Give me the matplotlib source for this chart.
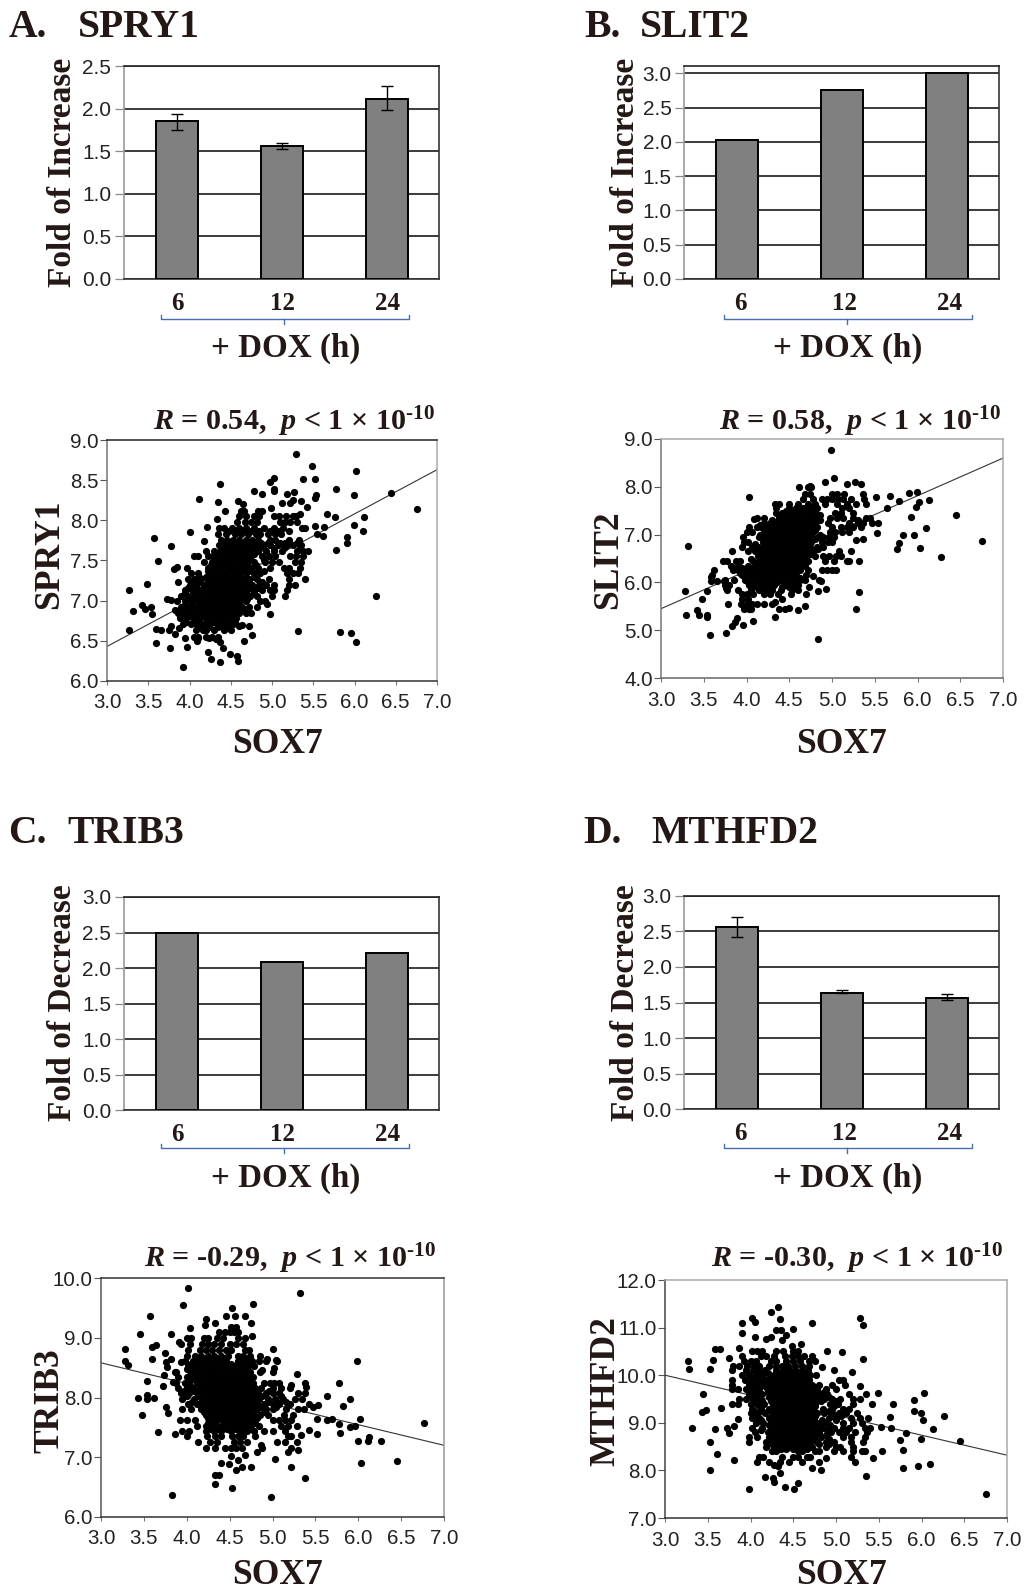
import matplotlib
matplotlib.use("Agg")
import matplotlib.pyplot as plt

W, H = 1024, 1591
INK = "#231815"
plt.rcParams["font.family"] = ["Liberation Sans", "DejaVu Sans"]
plt.rcParams["mathtext.fontset"] = "custom"
plt.rcParams["mathtext.rm"] = "Liberation Serif:bold"
plt.rcParams["mathtext.it"] = "Liberation Serif:italic:bold"
plt.rcParams["mathtext.bf"] = "Liberation Serif:bold"

# ---------- bar data ----------
hours = ["6", "12", "24"]
spry1_fold = [1.85, 1.56, 2.11]
spry1_err_low = [0.10, 0.04, 0.13]
spry1_err_high = [0.09, 0.04, 0.16]
slit2_fold = [2.03, 2.75, 3.00]
trib3_fold = [2.50, 2.08, 2.21]
mthfd2_fold = [2.56, 1.64, 1.56]
mthfd2_err_low = [0.14, 0.01, 0.025]
mthfd2_err_high = [0.14, 0.035, 0.06]

# ---------- scatter data: isolated points ----------
spry1_extra = [(3.27,7.13),(3.32,6.87),(3.27,6.63),(3.42,6.94),(3.46,6.90),(3.53,6.92),(3.54,6.83),(3.48,7.21),
(3.57,7.78),(3.62,7.49),(3.59,6.65),(3.65,6.64),(3.59,6.47),(3.76,6.41),(3.78,7.68),(3.81,7.39),(3.85,7.42),
(3.86,7.23),(3.73,7.02),(3.77,7.01),(3.82,6.88),(3.75,6.63),(3.78,6.68),(3.82,6.58),(3.87,6.66),(3.95,6.54),
(3.97,6.42),(3.92,6.18),(4.0,7.85),(4.12,8.26),(4.17,7.74),(4.21,7.92),(4.35,8.23),(4.37,8.45),(4.43,8.12),
(4.33,8.02),(4.59,8.24),(4.65,8.2),(4.78,8.37),(4.88,8.33),(4.97,8.48),(5.02,8.53),(5.02,8.39),(5.02,8.36),
(5.29,8.82),(5.49,8.68),(5.38,8.51),(5.52,8.51),(5.27,8.35),(5.18,8.33),(5.53,8.31),(5.52,8.28),(5.35,8.24),
(5.25,8.25),(5.22,8.21),(5.12,8.21),(5.42,8.16),(4.99,8.15),(5.34,8.08),(5.67,8.08),(5.76,8.04),(5.78,8.39),
(5.99,8.32),(6.02,8.61),(6.44,8.34),(6.76,8.14),(6.12,8.04),(5.99,7.94),(6.1,7.87),(5.63,7.92),(5.52,7.93),
(5.55,7.83),(5.62,7.81),(5.91,7.79),(5.91,7.72),(5.78,7.63),(6.26,7.06),(5.32,6.62),(5.83,6.61),(5.96,6.6),
(6.02,6.48),(4.98,6.83),(4.94,6.96),(4.76,6.57),(4.72,6.68),(4.66,6.5),(4.6,6.68),(4.64,6.7),(4.59,6.25),
(4.57,6.31),(4.49,6.34),(4.37,6.24),(4.26,6.28),(4.22,6.36),(4.4,6.41),(4.37,6.48),(4.09,6.5),(4.1,6.54),
(4.24,6.53),(4.32,6.52)]
slit2_extra = [(3.28,5.82),(3.29,5.32),(3.32,6.77),(3.42,5.43),(3.45,5.32),(3.48,5.66),(3.54,5.82),(3.54,5.32),
(3.54,5.27),(3.57,4.91),(3.62,6.26),(3.58,6.12),(3.59,6.02),(3.65,6.02),(3.76,4.95),(3.78,5.55),(3.74,6.02),
(3.76,5.88),(3.83,5.08),(3.86,5.18),(3.89,5.25),(3.73,6.45),(3.83,6.65),(3.96,5.1),(4.08,5.19),(4.03,7.78),
(4.09,7.32),(4.33,5.27),(4.84,4.82),(4.99,8.77),(5.02,8.18),(4.92,8.11),(4.61,8.0),(4.74,8.02),(5.18,8.06),
(5.27,8.1),(5.34,8.05),(5.28,5.44),(5.31,5.8),(5.32,6.44),(5.22,6.66),(5.28,6.88),(5.36,6.9),(5.53,7.03),
(5.52,7.78),(5.68,7.81),(5.78,7.7),(5.64,7.55),(5.9,7.86),(5.99,7.89),(6.02,7.68),(5.98,7.58),(6.13,7.72),
(5.92,7.36),(6.45,7.4),(6.76,6.87),(6.1,7.13),(5.96,6.99),(5.83,7.0),(6.03,6.72),(5.78,6.82),(5.76,6.69),
(6.27,6.54),(4.93,5.87),(4.84,5.82),(4.87,6.03),(4.7,5.76),(4.73,5.9),(4.78,6.14),(4.68,5.5),(4.6,5.43),
(4.5,5.47),(4.45,5.45),(4.33,5.58)]
trib3_extra = [(3.28,8.81),(3.28,8.61),(3.32,8.54),(3.43,7.99),(3.46,9.06),(3.48,7.7),(3.54,8.27),(3.54,8.04),
(3.54,7.98),(3.62,8.0),(3.57,9.37),(3.59,8.64),(3.59,8.84),(3.64,8.88),(3.66,7.42),(3.72,8.2),(3.74,8.38),
(3.75,8.75),(3.76,8.6),(3.77,8.51),(3.82,9.06),(3.82,8.65),(3.76,7.84),(3.78,7.74),(3.83,6.37),(3.86,7.39),
(3.96,9.55),(4.01,9.84),(3.93,8.59),(3.91,8.93),(3.86,8.43),(3.84,8.26),(4.04,9.17),(4.22,9.32),(4.21,9.21),
(4.33,9.24),(4.38,9.1),(4.46,9.37),(4.53,9.49),(4.56,9.36),(4.68,9.36),(4.77,9.56),(4.75,9.24),(4.52,9.18),
(4.58,9.18),(4.76,9.03),(5.32,9.75),(5.0,8.81),(4.94,8.65),(5.04,8.63),(5.02,8.49),(4.88,8.46),(5.29,8.4),
(5.38,8.25),(5.39,8.18),(5.21,8.21),(5.64,8.02),(5.78,8.25),(5.82,7.86),(5.9,7.97),(5.99,8.61),(5.53,7.87),
(5.47,7.84),(5.52,7.64),(5.63,7.62),(5.69,7.64),(5.77,7.56),(5.79,7.41),(5.9,7.51),(5.96,7.53),(6.02,7.64),
(6.0,7.28),(6.11,7.28),(6.13,7.34),(6.26,7.28),(6.03,6.91),(6.45,6.93),(6.77,7.57),(5.52,7.39),(5.43,7.45),
(5.33,7.37),(5.3,7.12),(5.22,6.83),(5.38,6.66),(4.98,6.34),(5.03,6.97),(4.82,7.09),(4.75,6.83),(4.68,7.04),
(4.64,6.83),(4.58,6.79),(4.6,6.95),(4.49,6.89),(4.52,7.02),(4.4,6.9),(4.33,6.71),(4.38,6.71),(4.33,6.55),
(4.53,6.49),(5.05,7.26),(5.18,7.09),(4.87,7.2)]
mthfd2_extra = [(3.27,10.29),(3.28,10.13),(3.32,8.89),(3.43,9.23),(3.48,9.26),(3.45,9.6),(3.56,10.32),(3.53,10.14),
(3.58,10.54),(3.64,10.54),(3.65,9.32),(3.58,8.86),(3.53,8.59),(3.61,8.35),(3.53,8.0),(3.72,8.9),(3.75,8.79),
(3.81,8.93),(3.85,9.08),(3.81,8.21),(3.75,10.37),(3.9,11.1),(3.9,10.88),(4.02,11.21),(4.05,11.12),(4.05,10.81),
(3.87,10.58),(3.98,7.61),(4.24,11.32),(4.32,11.43),(4.35,11.19),(4.3,10.95),(4.36,10.95),(4.5,10.97),(4.72,11.09),
(5.28,11.21),(5.32,11.05),(5.32,10.34),(5.07,10.48),(4.9,10.51),(4.59,10.65),(4.48,10.62),(4.18,10.77),(4.24,10.8),
(4.42,10.84),(4.37,10.75),(5.19,10.07),(4.98,10.1),(4.84,10.18),(5.28,9.77),(5.49,9.63),(5.35,9.61),(5.67,9.39),
(5.91,9.48),(6.03,9.62),(5.91,9.25),(5.99,9.21),(6.26,9.14),(6.02,9.05),(6.13,8.86),(5.82,8.79),(5.63,9.12),
(5.64,8.89),(5.53,8.92),(5.75,8.63),(5.99,8.65),(6.45,8.61),(5.78,8.42),(5.78,8.06),(5.96,8.1),(6.1,8.14),
(5.54,8.4),(5.43,8.26),(5.35,7.89),(6.76,7.5),(5.22,8.17),(4.82,8.0),(4.72,8.06),(4.56,7.73),(4.51,7.61),
(4.4,7.66),(4.27,7.75),(4.26,7.84),(4.17,7.86),(4.35,7.94),(4.88,8.26),(4.32,8.1),(4.28,8.12)]

# ---------- scatter data: dense cloud read row by row ----------
spry1_row_y = [8.12,8.05,7.98,7.9,7.83,7.76,7.69,7.62,7.55,7.48,7.41,7.34,7.27,7.2,7.13,7.06,6.99,6.92,6.85,6.78,6.71,6.63,6.55,
               7.87,7.72,7.65,7.58,7.51,7.44,7.37,7.3,7.23,7.16,7.09,7.02,6.95,6.88,6.81,6.74,6.67]
spry1_row_x = [
[4.62,4.66,4.83,4.88],
[4.6,4.69,4.78,4.84,5.03,5.08,5.17,5.25,5.29],
[4.58,4.67,4.74,4.82,5.1,5.16,5.22,5.3],
[4.36,4.42,4.52,4.6,4.69,4.78,4.9,5.03,5.13,5.36,5.4],
[4.34,4.44,4.55,4.63,4.71,4.8,4.86,4.95,5.04,5.11],
[4.38,4.45,4.53,4.6,4.68,4.76,4.83,4.98,5.04,5.2,5.33],
[4.36,4.43,4.5,4.58,4.65,4.72,4.8,4.9,4.97,5.07,5.18,5.25,5.35],
[4.2,4.3,4.37,4.44,4.51,4.58,4.66,4.74,4.83,4.93,5.02,5.12,5.3,5.38,5.44],
[4.05,4.1,4.22,4.28,4.35,4.42,4.49,4.57,4.64,4.72,4.88,4.96,5.04,5.22,5.29,5.37],
[4.18,4.27,4.34,4.41,4.48,4.55,4.62,4.7,4.78,4.92,5.0,5.08,5.28,5.35],
[3.97,4.22,4.3,4.37,4.44,4.51,4.58,4.66,4.75,4.83,4.97,5.14,5.2,5.34],
[4.02,4.1,4.26,4.33,4.4,4.47,4.54,4.61,4.68,4.78,4.86,5.18,5.26,5.32],
[3.98,4.06,4.14,4.22,4.29,4.36,4.43,4.5,4.57,4.64,4.72,4.82,4.96,5.2,5.4],
[4.0,4.08,4.18,4.25,4.32,4.39,4.46,4.53,4.6,4.67,4.76,4.84,4.93,5.02,5.2,5.28],
[3.94,4.03,4.13,4.2,4.27,4.34,4.41,4.48,4.55,4.62,4.7,4.78,4.88,4.97,5.03,5.18],
[3.9,3.98,4.08,4.16,4.23,4.3,4.37,4.44,4.51,4.58,4.65,4.73,4.82,5.0,5.16],
[3.85,3.95,4.04,4.12,4.19,4.26,4.33,4.4,4.47,4.54,4.61,4.68,4.85,4.92],
[3.9,3.98,4.08,4.15,4.22,4.29,4.36,4.43,4.5,4.57,4.64,4.72,4.82],
[3.86,3.95,4.03,4.11,4.18,4.25,4.32,4.39,4.46,4.53,4.6,4.68,4.74],
[3.88,3.96,4.05,4.13,4.2,4.28,4.35,4.42,4.49,4.56],
[3.92,4.02,4.08,4.17,4.25,4.33,4.4,4.47,4.53],
[4.08,4.16,4.2,4.3,4.42,4.5],
[4.05,4.1,4.2,4.27,4.34],
[4.48,4.57,4.66,4.75,4.84,4.98,5.08,5.2],
[4.42,4.5,4.57,4.64,4.72,4.8,4.87,4.95,5.1,5.16,5.3],
[4.4,4.47,4.54,4.62,4.7,4.77,4.86,5.03,5.15,5.34],
[4.4,4.47,4.54,4.62,4.7,4.78],
[4.31,4.38,4.45,4.52,4.6,4.67,4.75,4.9],
[4.26,4.33,4.4,4.47,4.54,4.62,4.7,4.8],
[4.23,4.3,4.36,4.43,4.5,4.57,4.64,4.72,4.9],
[4.12,4.2,4.26,4.33,4.4,4.47,4.54,4.6,4.68,4.78],
[4.03,4.12,4.22,4.29,4.36,4.43,4.5,4.57,4.64,4.72,4.88],
[3.98,4.08,4.16,4.23,4.3,4.37,4.44,4.51,4.58,4.65,4.74,4.83],
[3.95,4.05,4.12,4.2,4.27,4.34,4.41,4.48,4.55,4.62,4.68,4.78],
[4.02,4.08,4.16,4.23,4.3,4.37,4.44,4.51,4.58,4.65,4.7],
[3.95,4.02,4.11,4.18,4.25,4.32,4.39,4.46,4.53,4.6],
[3.92,4.0,4.08,4.15,4.22,4.29,4.36,4.43,4.5,4.57,4.65],
[3.92,4.0,4.07,4.15,4.23,4.3,4.37,4.44,4.51],
[3.96,4.04,4.12,4.22,4.3,4.37,4.44,4.55],
[4.12,4.24,4.34,4.45]]

slit2_row_y = [8.0,7.85,7.75,7.65,7.55,7.45,7.35,7.25,7.15,7.05,6.95,6.85,6.75,6.65,6.55,6.45,6.35,6.25,6.15,6.05,5.95,5.85,5.75,5.65,5.55,5.45,
               7.5,7.4,7.3,7.2,7.1,7.0,6.9,6.8,6.7,6.6,6.5,6.4,6.3,6.2,6.1,6.0,5.9]
slit2_row_x = [
[4.72,4.76],
[4.68,4.74,5.0,5.06,5.14,5.36],
[4.66,4.78,4.88,4.94,5.0,5.07,5.13,5.22,5.38],
[4.33,4.38,4.5,4.6,4.72,4.8,4.92,5.06,5.17,5.28,5.4],
[4.35,4.5,4.58,4.66,4.74,4.82,5.12,5.2],
[4.34,4.42,4.5,4.58,4.65,4.72,4.8,5.03,5.1,5.24],
[4.12,4.2,4.38,4.46,4.53,4.6,4.68,4.75,4.82,4.98,5.06,5.13,5.25,5.4,5.45],
[4.2,4.27,4.34,4.42,4.5,4.57,4.64,4.72,4.8,4.95,5.2,5.3,5.36,5.47,5.54],
[4.03,4.12,4.17,4.24,4.31,4.38,4.45,4.52,4.59,4.66,4.74,4.82,5.0,5.1,5.18,5.25,5.34],
[4.0,4.07,4.2,4.27,4.34,4.41,4.48,4.55,4.62,4.7,4.78,4.98,5.04,5.12,5.2],
[3.96,4.15,4.22,4.29,4.36,4.43,4.5,4.57,4.64,4.72,4.84,4.9,4.97,5.02],
[3.97,4.02,4.19,4.26,4.33,4.4,4.47,4.54,4.61,4.68,4.76,4.88,4.95,5.0],
[3.95,4.07,4.13,4.18,4.25,4.32,4.39,4.46,4.53,4.6,4.67,4.74,4.82,4.9],
[4.02,4.1,4.2,4.27,4.34,4.41,4.48,4.55,4.62,4.7,4.78,5.08],
[4.13,4.2,4.27,4.34,4.41,4.48,4.55,4.62,4.7,4.8,4.9,4.97,5.05,5.1],
[3.77,3.88,3.92,4.08,4.15,4.22,4.29,4.36,4.43,4.5,4.57,4.64,4.72,4.92,5.02,5.17,5.2],
[3.82,3.9,4.02,4.1,4.17,4.24,4.31,4.38,4.45,4.52,4.6,4.68],
[3.84,3.9,3.98,4.06,4.13,4.2,4.27,4.34,4.41,4.48,4.55,4.62,4.72,4.88,4.94,5.0,5.05],
[3.6,3.95,4.01,4.08,4.15,4.22,4.29,4.36,4.43,4.5,4.58,4.7],
[3.75,3.85,3.98,4.05,4.12,4.19,4.26,4.33,4.4,4.47,4.55,4.63,4.68,4.85],
[3.75,3.8,4.03,4.1,4.17,4.25,4.32,4.45,4.53,4.6],
[3.77,3.9,4.05,4.15,4.22,4.3,4.4,4.53,4.6],
[3.95,4.0,4.08,4.2,4.27,4.37,4.52],
[3.95,4.02,4.42],
[3.93,4.0,4.07,4.12,4.2,4.3],
[3.97,4.03,4.05,4.38],
[4.46,4.54,4.62,4.7,4.78],
[4.42,4.5,4.57,4.64,4.72,4.8,4.86],
[4.3,4.38,4.46,4.53,4.6,4.68,4.76,4.86,5.3],
[4.16,4.28,4.35,4.42,4.5,4.56,4.63,4.7,4.78],
[4.22,4.3,4.37,4.44,4.51,4.58,4.65,4.72,4.8],
[4.16,4.24,4.31,4.38,4.45,4.52,4.6,4.67,4.75,4.86],
[4.22,4.29,4.36,4.43,4.5,4.57,4.64,4.72,4.8],
[4.1,4.22,4.29,4.36,4.43,4.5,4.57,4.64,4.72],
[4.15,4.22,4.3,4.36,4.43,4.5,4.57,4.64,4.72,4.84],
[4.16,4.23,4.3,4.37,4.44,4.51,4.58,4.66,4.75],
[4.05,4.17,4.24,4.31,4.38,4.45,4.52,4.6,4.68],
[4.12,4.2,4.27,4.34,4.41,4.48,4.55,4.63],
[3.95,4.03,4.1,4.17,4.24,4.31,4.38,4.45,4.52,4.6],
[3.92,4.03,4.11,4.18,4.25,4.32,4.39,4.46,4.53],
[4.08,4.15,4.22,4.29,4.36,4.44,4.52,4.62],
[4.02,4.15,4.22,4.3,4.36,4.5,4.58],
[4.12,4.2,4.27,4.42,4.5,4.57]]

trib3_row_y = [9.1,9.0,8.9,8.8,8.7,8.61,8.52,8.43,8.34,8.25,8.16,8.07,7.98,7.89,7.8,7.71,7.62,7.53,7.44,7.35,7.26,7.15,
               8.65,8.56,8.47,8.38,8.29,8.2,8.11,8.02,7.93,7.84,7.75,7.66,7.57,7.48]
trib3_row_x = [
[4.45,4.5,4.55,4.6],
[4.0,4.05,4.2,4.25,4.35,4.42,4.6,4.68],
[3.93,4.04,4.18,4.25,4.32,4.4,4.5,4.58,4.66],
[4.02,4.15,4.22,4.3,4.38,4.46,4.52,4.68,4.73],
[4.0,4.1,4.17,4.25,4.32,4.4,4.48,4.6,4.66,4.74,4.85],
[3.98,4.07,4.14,4.22,4.3,4.38,4.46,4.6,4.68,4.76,4.84,4.93,5.05],
[4.02,4.1,4.18,4.26,4.33,4.41,4.55,4.63,4.71,4.78],
[3.88,4.05,4.13,4.2,4.28,4.35,4.43,4.5,4.58,4.66,4.74,4.85,5.0],
[3.9,4.0,4.08,4.16,4.24,4.31,4.39,4.46,4.54,4.62,4.7,4.77],
[3.88,3.98,4.12,4.2,4.27,4.34,4.41,4.48,4.55,4.62,4.69,4.77,4.9,4.97,5.02,5.08],
[3.9,4.0,4.07,4.15,4.22,4.29,4.36,4.43,4.5,4.57,4.64,4.71,4.8,4.87,5.0,5.1,5.2],
[3.93,4.03,4.12,4.19,4.26,4.33,4.4,4.47,4.54,4.61,4.68,4.75,4.83,4.92,5.0,5.07,5.3,5.38],
[3.95,4.08,4.2,4.27,4.34,4.41,4.48,4.55,4.62,4.69,4.76,4.84,4.95,5.03,5.12,5.26,5.34],
[4.02,4.12,4.23,4.3,4.37,4.44,4.51,4.58,4.65,4.72,4.8,4.9,5.0,5.08,5.2,5.42],
[3.95,4.05,4.17,4.24,4.31,4.38,4.45,4.52,4.59,4.66,4.73,4.82,4.93,5.0,5.16,5.3,5.37],
[4.22,4.29,4.36,4.43,4.5,4.57,4.64,4.71,4.78,4.86,4.95,5.13,5.24],
[3.92,4.0,4.1,4.26,4.35,4.42,4.49,4.56,4.63,4.7,4.77,5.0,5.07,5.15,5.22],
[4.12,4.22,4.3,4.4,4.47,4.54,4.61,4.68,4.75,4.84,5.1,5.18,5.28],
[3.95,4.03,4.22,4.32,4.4,4.52,4.62,4.7,4.78,4.9,5.0,5.15],
[4.0,4.24,4.33,4.4,4.53,4.6,4.66,4.8,5.18,5.22],
[4.13,4.27,4.35,4.55,4.62,4.7,5.15,5.28],
[4.23,4.33,4.45,4.52,4.58,4.65,4.88,5.22],
[4.13,4.2,4.28,4.36,4.42,4.66,4.72],
[4.05,4.14,4.22,4.3,4.38,4.45,4.52,4.62,4.7],
[4.0,4.08,4.16,4.24,4.32,4.4,4.47,4.54,4.62,4.7],
[4.04,4.12,4.2,4.27,4.35,4.42,4.5,4.58,4.66,4.73],
[4.05,4.14,4.23,4.3,4.37,4.44,4.51,4.58,4.65,4.73],
[4.04,4.17,4.24,4.31,4.38,4.45,4.52,4.59,4.66,4.74],
[3.97,4.08,4.15,4.22,4.29,4.36,4.43,4.5,4.57,4.64,4.71,4.79,4.96],
[4.0,4.14,4.23,4.3,4.37,4.44,4.51,4.58,4.65,4.72,4.8,4.88,5.1],
[4.06,4.17,4.24,4.31,4.38,4.45,4.52,4.59,4.66,4.73,4.82,4.95,5.05,5.16],
[4.2,4.27,4.34,4.41,4.48,4.55,4.62,4.69,4.76,4.86,5.04],
[4.2,4.26,4.33,4.4,4.47,4.54,4.61,4.68,4.75,4.9],
[4.25,4.32,4.39,4.46,4.53,4.6,4.67,4.74,4.82],
[4.25,4.33,4.43,4.5,4.57,4.64,4.71,4.8],
[4.27,4.36,4.47,4.57,4.66,4.74]]

mthfd2_row_y = [10.5,10.4,10.3,10.2,10.1,10.0,9.9,9.8,9.7,9.6,9.5,9.4,9.3,9.2,9.1,9.0,8.9,8.8,8.7,8.6,8.5,8.4,8.28,8.18,
                10.05,9.95,9.85,9.75,9.65,9.55,9.45,9.35,9.25,9.15,9.05,8.95,8.85,8.75,8.65,8.55,8.45]
mthfd2_row_x = [
[4.02,4.08,4.14,4.3,4.38,4.5,4.56],
[3.9,4.12,4.18,4.28,4.4,4.48,4.55,4.62,4.72],
[3.92,4.0,4.06,4.24,4.3,4.42,4.5,4.58,4.68,4.76],
[3.8,3.86,3.96,4.04,4.1,4.22,4.3,4.37,4.44,4.52,4.6,4.68],
[3.78,3.95,4.03,4.1,4.17,4.3,4.38,4.45,4.52,4.6,4.67],
[3.9,3.98,4.06,4.13,4.27,4.34,4.41,4.48,4.55,4.62,4.7,4.77],
[3.78,3.94,4.02,4.1,4.18,4.25,4.32,4.39,4.46,4.53,4.6,4.68,5.03,5.08],
[3.78,3.98,4.06,4.14,4.22,4.29,4.36,4.43,4.5,4.57,4.64,4.72,4.8,4.95,5.1],
[3.78,3.85,3.95,4.03,4.1,4.2,4.27,4.34,4.41,4.48,4.55,4.62,4.7,4.78,4.88,5.0],
[3.98,4.06,4.14,4.25,4.32,4.39,4.46,4.53,4.6,4.67,4.74,4.82,4.9,5.15],
[3.87,3.95,4.03,4.1,4.28,4.35,4.42,4.49,4.56,4.63,4.7,4.78,4.86,4.95,5.05,5.2,5.28],
[3.78,3.85,4.0,4.08,4.16,4.26,4.33,4.4,4.47,4.54,4.61,4.68,4.76,4.93,5.02,5.2,5.42],
[4.02,4.12,4.22,4.29,4.36,4.43,4.5,4.57,4.64,4.72,4.85,4.95,5.08,5.15],
[4.0,4.08,4.17,4.27,4.34,4.41,4.48,4.55,4.62,4.7,4.78,4.86,4.95,5.03,5.12,5.24],
[4.02,4.1,4.22,4.29,4.36,4.43,4.5,4.57,4.64,4.72,4.92,5.0,5.17,5.28,5.38],
[4.06,4.15,4.27,4.34,4.41,4.48,4.55,4.62,4.7,4.78,4.88,5.08,5.2,5.3],
[4.02,4.14,4.25,4.32,4.39,4.46,4.53,4.6,4.68,4.76,4.84,4.98,5.08,5.15,5.34,5.4],
[4.05,4.2,4.28,4.36,4.43,4.5,4.57,4.64,4.72,4.8,4.94,5.04,5.12,5.22,5.36],
[3.98,4.08,4.22,4.3,4.37,4.44,4.51,4.58,4.65,4.72,4.82,5.08,5.18,5.34],
[3.98,4.18,4.27,4.34,4.41,4.48,4.55,4.62,4.7,4.78,4.88,4.98,5.17,5.32],
[4.18,4.28,4.36,4.43,4.56,4.63,4.72,4.88,5.0,5.05,5.2],
[4.25,4.3,4.55,4.6,4.76,4.8,4.98,5.08,5.2,5.3,5.34],
[4.1,4.15,4.37,4.5,4.55,4.66,4.7,5.18],
[4.08,4.22,4.35,4.45,4.6,4.8],
[4.2,4.3,4.38,4.46,4.52,4.6,4.66],
[4.05,4.14,4.22,4.28,4.36,4.43,4.5,4.57,4.64],
[4.02,4.1,4.18,4.26,4.33,4.4,4.47,4.54,4.62],
[4.02,4.1,4.18,4.25,4.32,4.39,4.46,4.53,4.6,4.68,4.76],
[4.02,4.1,4.2,4.28,4.35,4.42,4.49,4.56,4.63,4.7,4.78,4.86],
[4.02,4.1,4.22,4.29,4.36,4.43,4.5,4.57,4.64,4.72,4.8,4.92],
[4.05,4.13,4.24,4.31,4.38,4.45,4.52,4.59,4.66,4.73,4.82,5.0],
[4.1,4.26,4.33,4.4,4.47,4.54,4.61,4.68,4.76,4.98],
[4.04,4.14,4.24,4.31,4.38,4.45,4.52,4.59,4.66,4.74,4.92,5.08],
[4.08,4.25,4.32,4.39,4.46,4.53,4.6,4.67,4.75,5.06],
[4.12,4.24,4.31,4.38,4.45,4.52,4.59,4.66,4.74,4.84,5.0],
[4.22,4.29,4.36,4.43,4.5,4.57,4.64,4.72,4.82,4.93],
[4.12,4.25,4.32,4.39,4.46,4.53,4.6,4.68,4.76,4.9],
[4.25,4.32,4.4,4.47,4.54,4.61,4.68,4.76,4.88],
[4.22,4.3,4.37,4.44,4.51,4.58,4.65,4.74,4.92],
[4.25,4.32,4.39,4.46,4.52,4.6,4.68,4.8,4.92],
[4.28,4.36,4.42,4.5,4.56,4.66]]

# regression line end points read at SOX7 = 3 and 7
fit_x = [3.0, 7.0]
spry1_fit = [6.43, 8.63]
slit2_fit = [5.45, 8.60]
trib3_fit = [8.58, 7.20]
mthfd2_fit = [10.0, 8.32]

fig = plt.figure(figsize=(W / 100, H / 100), dpi=100, facecolor="white")


def axes_px(left, right, top, bottom):
    return fig.add_axes([left / W, 1 - bottom / H, (right - left) / W, (bottom - top) / H])


def bar_panel(box, values, top, ticks, err=None, label_shift=0.01):
    ax = axes_px(*box)
    ax.set_xlim(-0.5, 2.5)
    ax.set_ylim(0, top)
    ax.bar(range(3), values, width=0.4, color="#808080", edgecolor="black", linewidth=1.4, zorder=3)
    if err is not None:
        ax.errorbar(range(3), values, yerr=err, fmt="none", ecolor="black", elinewidth=1.0,
                    capsize=4.4, capthick=1.0, zorder=4)
    ax.set_yticks(ticks)
    ax.set_yticklabels([f"{t:.1f}" for t in ticks], fontsize=15, color="#222222")
    ax.tick_params(axis="y", length=6.5, width=0.9, color="#888888", pad=2.6)
    ax.set_xticks([i + label_shift for i in range(3)])
    ax.set_xticklabels(hours, family="Liberation Serif", fontweight="bold", fontsize=18, color=INK)
    ax.tick_params(axis="x", length=0, pad=9.5)
    ax.set_axisbelow(True)
    ax.grid(axis="y", color="#1a1a1a", linewidth=1.2)
    for name, col in (("left", "#999999"), ("top", "#222222"), ("right", "#333333"), ("bottom", "#333333")):
        ax.spines[name].set_color(col)
        ax.spines[name].set_linewidth(1.2)
    return ax


def scatter_panel(box, ylim, yticks, extra, row_y, row_x, fit, spines):
    ax = axes_px(*box)
    xs = [p[0] for p in extra]
    ys = [p[1] for p in extra]
    for y, row in zip(row_y, row_x):
        xs.extend(row)
        ys.extend([y] * len(row))
    ax.plot(fit_x, fit, color="#333333", linewidth=0.8, zorder=2)
    ax.scatter(xs, ys, s=27, color="black", linewidths=0, zorder=3)
    ax.set_xlim(3, 7)
    ax.set_ylim(*ylim)
    xt = [3.0, 3.5, 4.0, 4.5, 5.0, 5.5, 6.0, 6.5, 7.0]
    ax.set_xticks(xt)
    ax.set_xticklabels([f"{t:.1f}" for t in xt], fontsize=14.8, color="#222222")
    ax.set_yticks(yticks)
    ax.set_yticklabels([f"{t:.1f}" for t in yticks], fontsize=14.8, color="#222222")
    ax.tick_params(axis="x", length=3, width=0.8, color="#777777", pad=6)
    ax.tick_params(axis="y", length=5, width=0.8, color="#555555", pad=1)
    for name, col in zip(("left", "top", "right", "bottom"), spines):
        ax.spines[name].set_color(col)
        ax.spines[name].set_linewidth(1.1)
    return ax


bar_panel((124, 439.3, 66, 279), spry1_fold, 2.5, [0, 0.5, 1, 1.5, 2, 2.5], [spry1_err_low, spry1_err_high])
bar_panel((684.3, 999.3, 65.7, 279), slit2_fold, 3.11, [0, 0.5, 1, 1.5, 2, 2.5, 3], label_shift=0.03)
bar_panel((124, 439.3, 897, 1110.3), trib3_fold, 3.0, [0, 0.5, 1, 1.5, 2, 2.5, 3])
bar_panel((684.3, 999.3, 895.7, 1109.3), mthfd2_fold, 3.0, [0, 0.5, 1, 1.5, 2, 2.5, 3],
          [mthfd2_err_low, mthfd2_err_high], label_shift=0.03)

scatter_panel((107, 437, 440, 681), (6, 9), [6, 6.5, 7, 7.5, 8, 8.5, 9], spry1_extra, spry1_row_y, spry1_row_x, spry1_fit,
              ("#777777", "#222222", "#aaaaaa", "#333333"))
scatter_panel((661, 1003, 439, 678), (4, 9), [4, 5, 6, 7, 8, 9], slit2_extra, slit2_row_y, slit2_row_x, slit2_fit,
              ("#777777", "#aaaaaa", "#aaaaaa", "#666666"))
scatter_panel((101, 444, 1278, 1517), (6, 10), [6, 7, 8, 9, 10], trib3_extra, trib3_row_y, trib3_row_x, trib3_fit,
              ("#555555", "#333333", "#999999", "#333333"))
scatter_panel((665, 1007, 1280, 1518), (7, 12), [7, 8, 9, 10, 11, 12], mthfd2_extra, mthfd2_row_y, mthfd2_row_x, mthfd2_fit,
              ("#444444", "#aaaaaa", "#aaaaaa", "#333333"))

# ---------- overlay in pixel coordinates for labels and brackets ----------
ov = fig.add_axes([0, 0, 1, 1], zorder=20)
ov.set_xlim(0, W)
ov.set_ylim(H, 0)
ov.axis("off")
ov.patch.set_alpha(0)


def serif(x, y, s, size, ha="left", rotation=0):
    ov.text(x, y, s, family="Liberation Serif", fontweight="bold", fontsize=size, color=INK,
            ha=ha, va="baseline", rotation=rotation, rotation_mode="anchor")


for x, y, s in [(9, 36.7, "A."), (78, 36.7, "SPRY1"), (584, 36.7, "B."), (640, 36.7, "SLIT2"),
                (8.5, 842.7, "C."), (67, 842.7, "TRIB3"), (583, 842.7, "D."), (651.5, 842.7, "MTHFD2")]:
    serif(x, y, s, 28.5)

for x, y, s in [(70.7, 172.5, "Fold of Increase"), (634, 172.5, "Fold of Increase"),
                (70.7, 1002.7, "Fold of Decrease"), (634, 1002.7, "Fold of Decrease")]:
    serif(x, y, s, 24, ha="center", rotation=90)

for x, y in [(286, 357), (848, 357), (286, 1187), (848, 1187)]:
    serif(x, y, "+ DOX (h)", 23.8, ha="center")

for x, y, s in [(58, 554.7, "SPRY1"), (616.7, 559.5, "SLIT2"), (58, 1400.7, "TRIB3"), (614.3, 1391, "MTHFD2")]:
    serif(x, y, s, 25.6, ha="center", rotation=90)

for x, y in [(277.3, 753), (842, 753), (277.3, 1584), (842, 1584)]:
    serif(x, y, "SOX7", 25.6, ha="center")

for x, y, r in [(434.5, 430.7, "0.54"), (1001, 430.7, "0.58"), (436, 1267, "-0.29"), (1003, 1267, "-0.30")]:
    serif(x, y, r"$\mathit{R}$ = " + r + r",  $\mathit{p}$ < 1 × 10$^{\text{-10}}$", 21.7, ha="right")

for left, right, tip, y in [(161, 409, 284.3, 319), (723.7, 971.7, 847.3, 319),
                            (161, 409, 284.3, 1148.3), (723.7, 971.7, 847.3, 1148.3)]:
    ov.plot([left, left, right, right], [y - 4, y, y, y - 4], color="#4a6cb3", linewidth=1.0, solid_joinstyle="round")
    ov.plot([tip, tip], [y, y + 4.5], color="#4a6cb3", linewidth=1.0)

fig.savefig("out.png", dpi=100, facecolor="white")
